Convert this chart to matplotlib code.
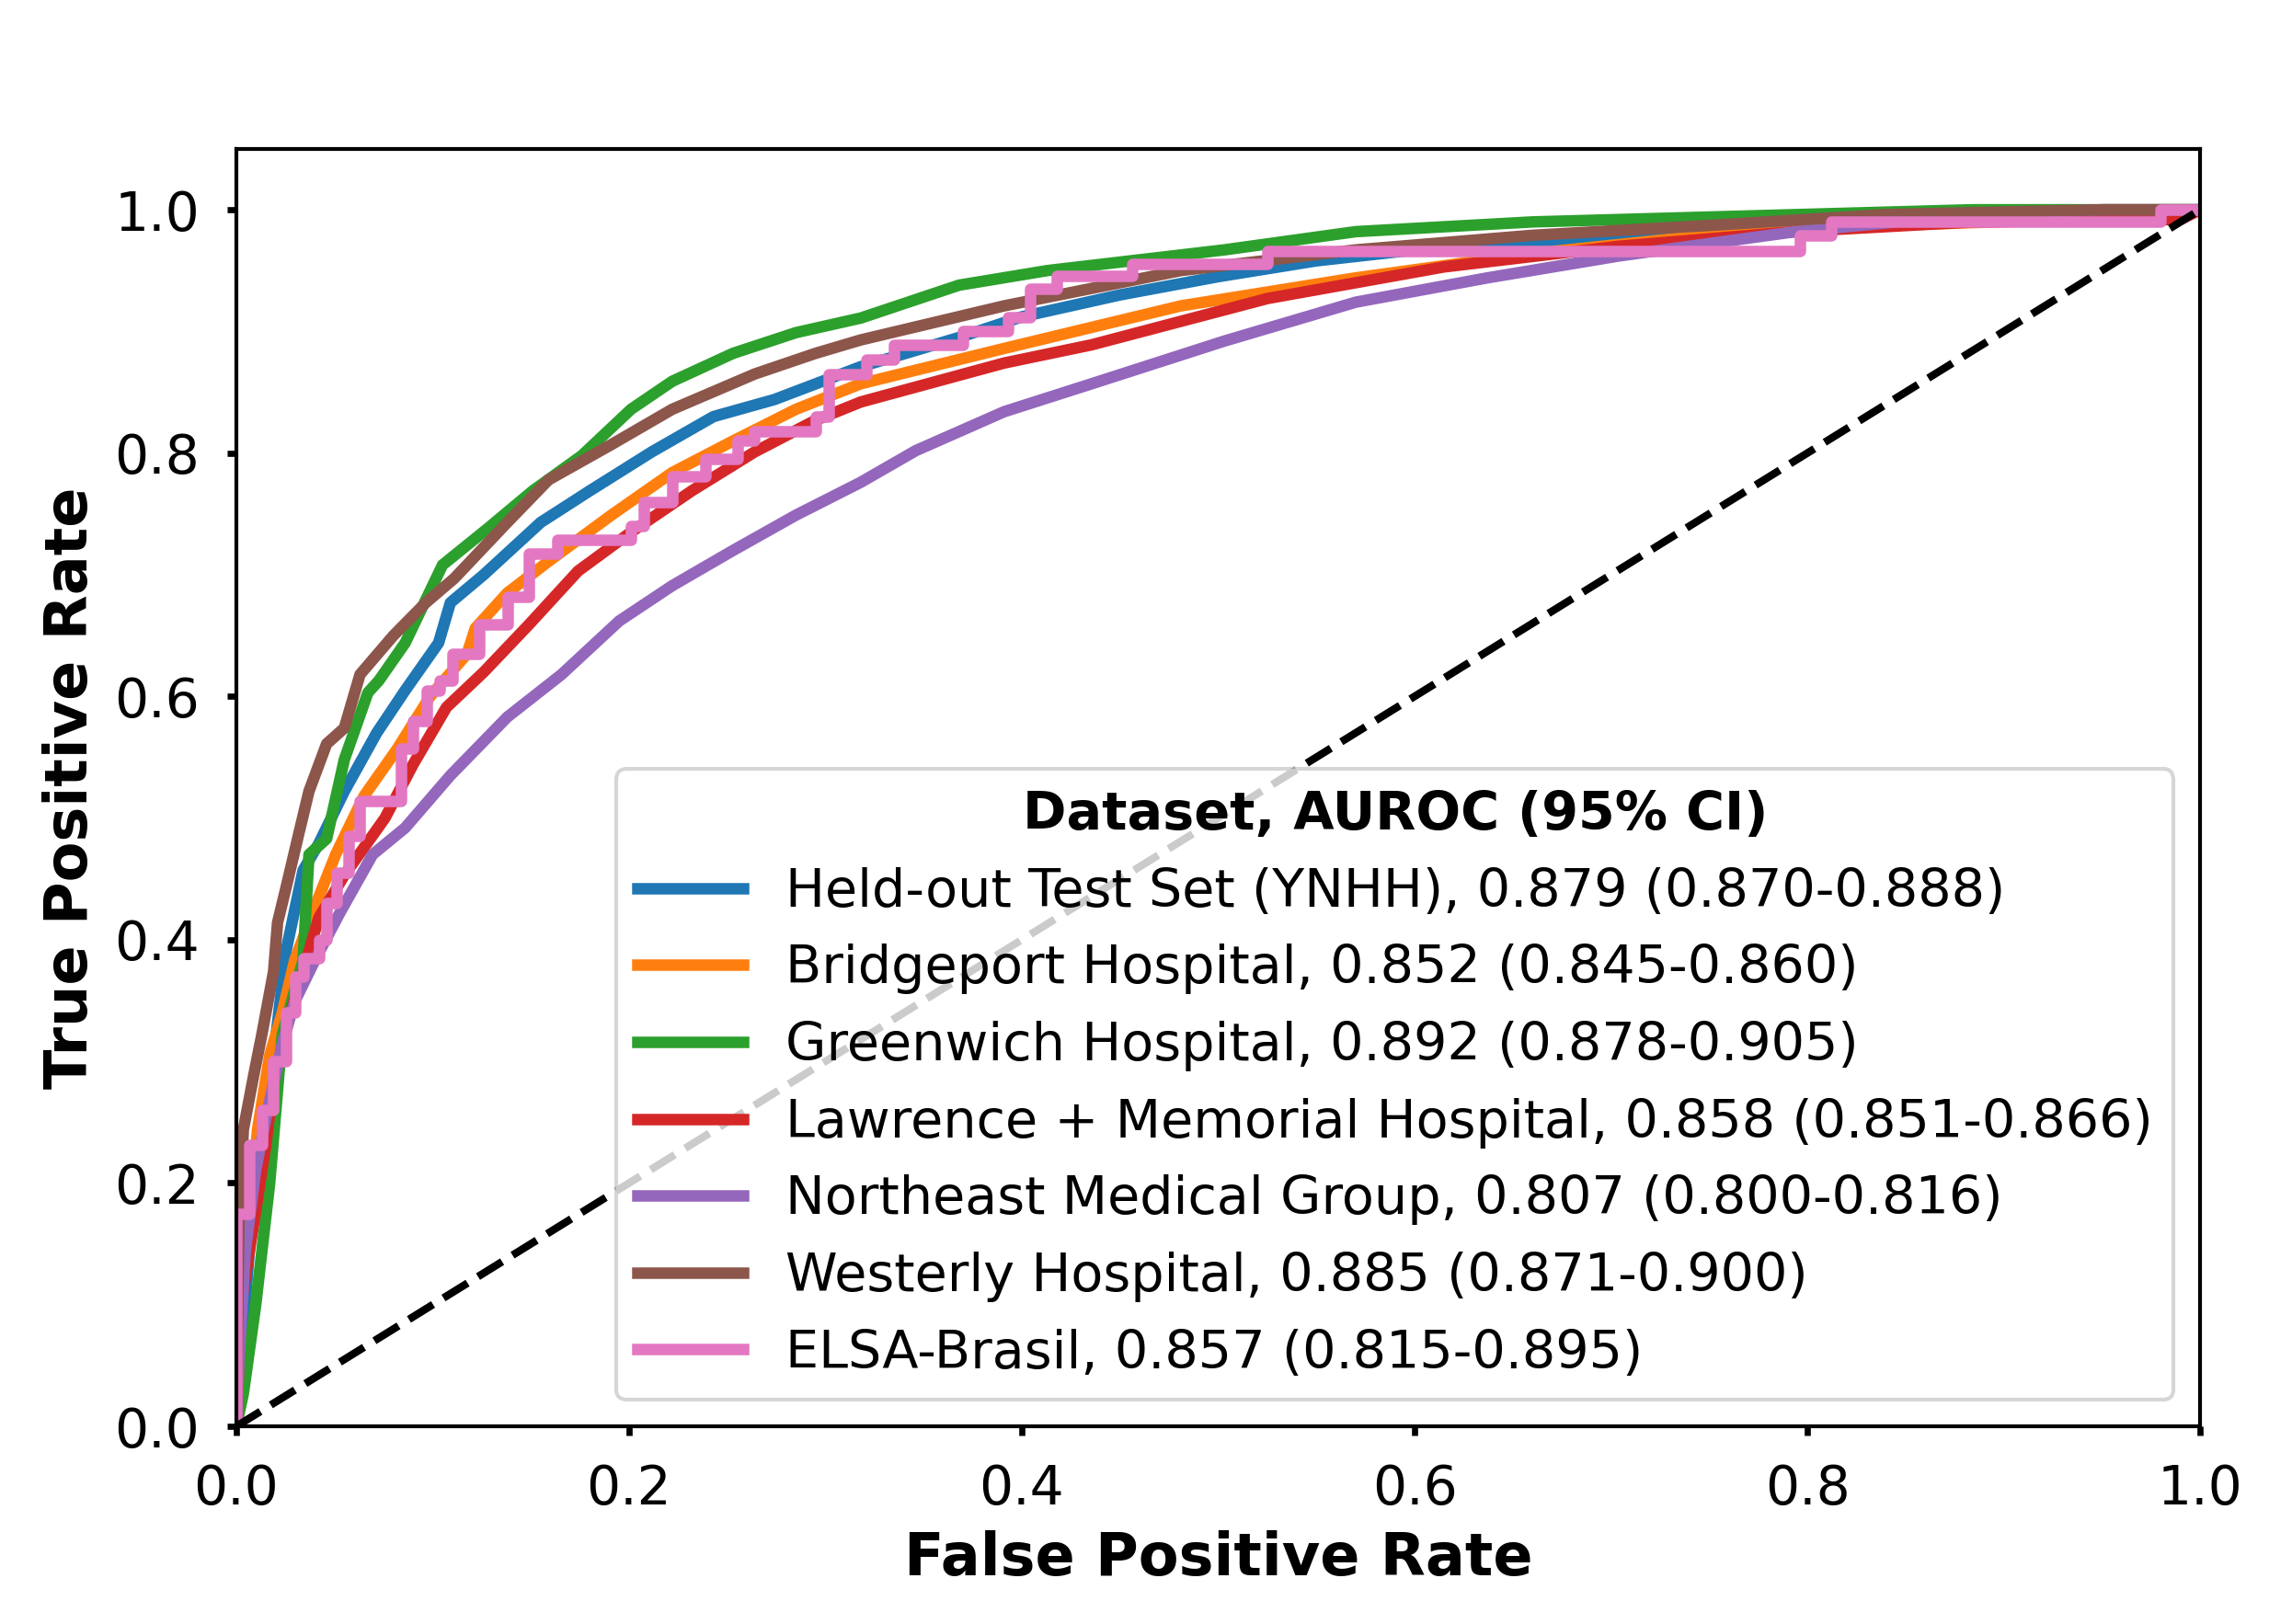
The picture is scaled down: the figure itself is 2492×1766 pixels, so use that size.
import numpy as np
import matplotlib
matplotlib.use('Agg')
import matplotlib.pyplot as plt

# ROC points (FPR, TPR)
fpr_ynhh = [0, 0.0014, 0.0066, 0.013, 0.019, 0.0255, 0.034, 0.042, 0.055, 0.0715, 0.086, 0.103, 0.109,
            0.126, 0.155, 0.180, 0.2116, 0.243, 0.274, 0.318, 0.368, 0.40, 0.45, 0.50, 0.55, 0.60, 0.70,
            0.80, 0.90, 1.0]
tpr_ynhh = [0, 0.036, 0.144, 0.253, 0.305, 0.392, 0.457, 0.479, 0.522, 0.570, 0.605, 0.644, 0.677,
            0.700, 0.743, 0.769, 0.801, 0.830, 0.844, 0.871, 0.895, 0.912, 0.930, 0.945, 0.958, 0.967, 0.978,
            0.988, 0.995, 1.0]

fpr_bridge = [0, 0.0014, 0.0066, 0.0108, 0.017, 0.0234, 0.0297, 0.040, 0.0506, 0.065, 0.082, 0.0987,
              0.1175, 0.1217, 0.138, 0.159, 0.191, 0.222, 0.253, 0.285, 0.318, 0.391, 0.481, 0.570, 0.660,
              0.749, 0.839, 0.951, 1.0]
tpr_bridge = [0, 0.079, 0.166, 0.244, 0.305, 0.340, 0.383, 0.427, 0.470, 0.518, 0.557, 0.600,
              0.635, 0.656, 0.685, 0.711, 0.749, 0.784, 0.810, 0.836, 0.857, 0.886, 0.921, 0.944, 0.964,
              0.979, 0.987, 0.993, 1.0]

fpr_green = [0, 0.0036, 0.0099, 0.017, 0.0234, 0.034, 0.037, 0.046, 0.055, 0.067, 0.0726, 0.086, 0.105,
             0.128, 0.151, 0.176, 0.201, 0.222, 0.253, 0.285, 0.318, 0.368, 0.413, 0.503, 0.570, 0.660,
             0.794, 0.884, 1.0]
tpr_green = [0, 0.027, 0.10, 0.20, 0.322, 0.383, 0.47, 0.483, 0.548, 0.603, 0.613, 0.644, 0.708,
             0.738, 0.769, 0.798, 0.836, 0.859, 0.882, 0.899, 0.911, 0.938, 0.950, 0.967, 0.982, 0.990,
             0.996, 1.0, 1.0]

fpr_lm = [0, 0.0025, 0.0088, 0.015, 0.019, 0.0276, 0.034, 0.042, 0.055, 0.0757, 0.090, 0.107, 0.126,
          0.149, 0.174, 0.201, 0.232, 0.264, 0.295, 0.318, 0.391, 0.4356, 0.525, 0.615, 0.704, 0.794,
          0.884, 0.99, 1.0]
tpr_lm = [0, 0.101, 0.166, 0.231, 0.283, 0.340, 0.374, 0.418, 0.453, 0.500, 0.544, 0.591, 0.620,
          0.659, 0.703, 0.735, 0.769, 0.801, 0.827, 0.842, 0.874, 0.889, 0.927, 0.953, 0.970, 0.982,
          0.990, 0.992, 1.0]

fpr_nemg = [0, 0.0014, 0.0046, 0.0098, 0.015, 0.0234, 0.0297, 0.040, 0.0527, 0.0694, 0.086, 0.109,
            0.138, 0.1656, 0.195, 0.222, 0.253, 0.285, 0.318, 0.346, 0.391, 0.4356, 0.503, 0.570, 0.637,
            0.704, 0.794, 0.884, 0.951, 1.0]
tpr_nemg = [0, 0.057, 0.144, 0.210, 0.253, 0.314, 0.349, 0.383, 0.422, 0.470, 0.492, 0.535,
            0.583, 0.618, 0.662, 0.691, 0.720, 0.749, 0.776, 0.802, 0.834, 0.857, 0.892, 0.924, 0.944,
            0.962, 0.982, 0.996, 1.0, 1.0]

fpr_west = [0, 0.0014, 0.0036, 0.0088, 0.013, 0.019, 0.021, 0.0255, 0.0318, 0.037, 0.046, 0.055, 0.063,
            0.080, 0.0965, 0.111, 0.138, 0.159, 0.191, 0.222, 0.264, 0.295, 0.318, 0.391, 0.481, 0.570,
            0.660, 0.749, 0.839, 0.951, 1.0]
tpr_west = [0, 0.175, 0.244, 0.288, 0.322, 0.374, 0.414, 0.444, 0.487, 0.522, 0.561, 0.574, 0.618,
            0.650, 0.677, 0.697, 0.743, 0.778, 0.807, 0.836, 0.865, 0.882, 0.893, 0.921, 0.950, 0.967,
            0.979, 0.987, 0.996, 1.0, 1.0]

# ELSA-Brasil is a small cohort: coarse steps (level starting at each fpr)
fpr_elsa = [0, 0, 0.0066, 0.013, 0.019, 0.0255, 0.030, 0.034, 0.042, 0.046, 0.051, 0.057, 0.063, 0.084,
            0.090, 0.097, 0.1035, 0.110, 0.1238, 0.1384, 0.1489, 0.1635, 0.2011, 0.2074, 0.222, 0.2388,
            0.2555, 0.2639, 0.2952, 0.3015, 0.321, 0.335, 0.370, 0.393, 0.404, 0.418, 0.456, 0.525, 0.796,
            0.812, 0.980, 1.0]
tpr_elsa = [0, 0.175, 0.231, 0.26, 0.30, 0.34, 0.37, 0.385, 0.40, 0.43, 0.455, 0.485, 0.514, 0.557,
            0.58, 0.605, 0.613, 0.635, 0.659, 0.682, 0.717, 0.729, 0.740, 0.760, 0.781, 0.795,
            0.810, 0.818, 0.830, 0.865, 0.877, 0.889, 0.900, 0.912, 0.935, 0.9455, 0.9555, 0.9657, 0.979,
            0.990, 1.0, 1.0]

labels = ['Held-out Test Set (YNHH), 0.879 (0.870-0.888)',
          'Bridgeport Hospital, 0.852 (0.845-0.860)',
          'Greenwich Hospital, 0.892 (0.878-0.905)',
          'Lawrence + Memorial Hospital, 0.858 (0.851-0.866)',
          'Northeast Medical Group, 0.807 (0.800-0.816)',
          'Westerly Hospital, 0.885 (0.871-0.900)',
          'ELSA-Brasil, 0.857 (0.815-0.895)']

curves = [(fpr_ynhh, tpr_ynhh), (fpr_bridge, tpr_bridge), (fpr_green, tpr_green), (fpr_lm, tpr_lm),
          (fpr_nemg, tpr_nemg), (fpr_west, tpr_west)]
colors = ['tab:blue', 'tab:orange', 'tab:green', 'tab:red', 'tab:purple', 'tab:brown', 'tab:pink']

fig = plt.figure(figsize=(2492/300, 1766/300))
ax = fig.add_axes([0.1031, 0.1217, 0.9599-0.1031, 0.9083-0.1217])

for i, (x, y) in enumerate(curves):
    ax.plot(x, y, color=colors[i], lw=3, label=labels[i])
ax.plot(fpr_elsa, tpr_elsa, color=colors[6], lw=3, drawstyle='steps-post', label=labels[6])
ax.plot([0, 1], [0, 1], 'k--', lw=2)

ax.set_xlim(0, 1)
ax.set_ylim(0, 1.05)
ax.set_xlabel('False Positive Rate', fontsize=15.3, fontweight='bold')
ax.set_ylabel('True Positive Rate', fontsize=15.3, fontweight='bold')
ax.tick_params(labelsize=14, width=1.6, length=2.5, pad=7)
for s in ax.spines.values():
    s.set_linewidth(1.0)

leg = ax.legend(loc='lower right', fontsize=13.75, title='Dataset, AUROC (95% CI)',
                title_fontproperties={'weight': 'bold', 'size': 13.75})

fig.savefig('out.png', dpi=300)
